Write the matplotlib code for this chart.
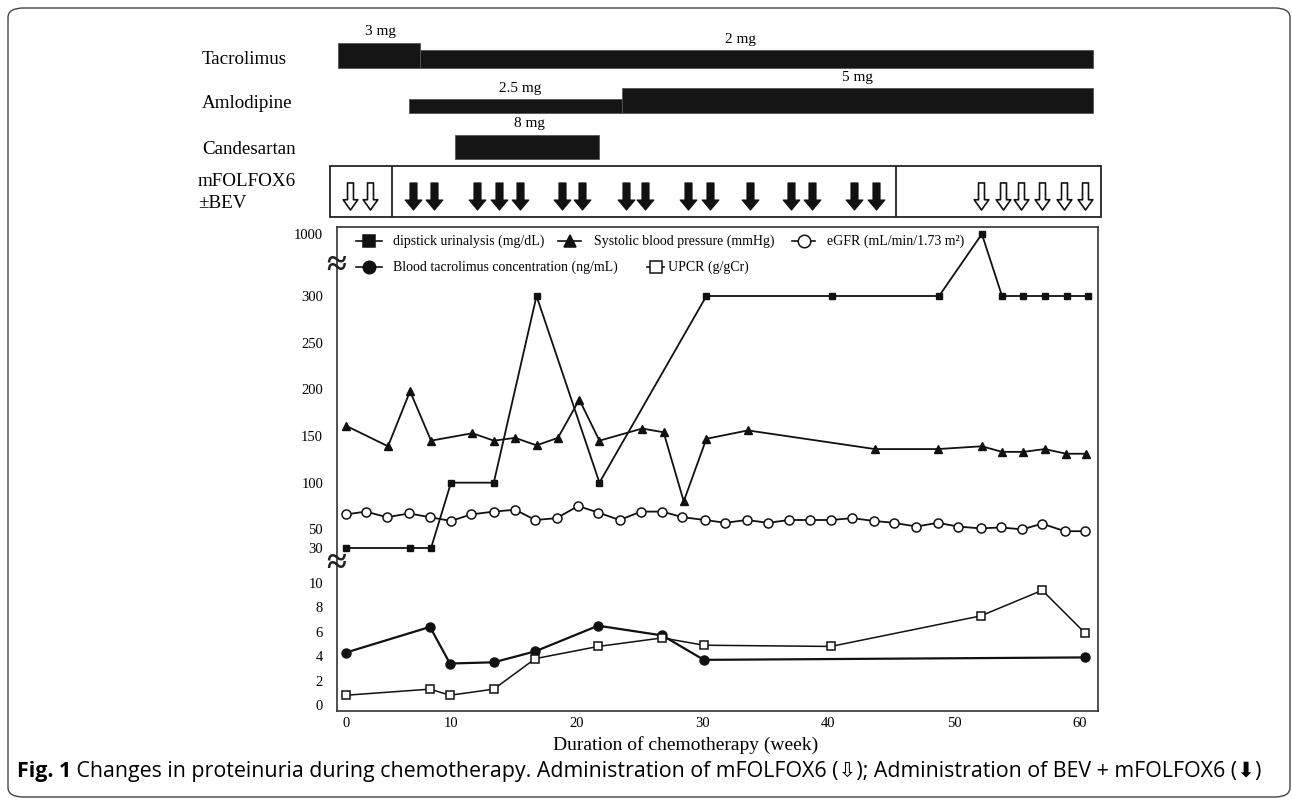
import numpy as np
import matplotlib
matplotlib.use("Agg")
import matplotlib.pyplot as plt
from matplotlib.path import Path
from matplotlib.lines import Line2D
from matplotlib.patches import FancyBboxPatch, Rectangle

# ---------------- data ----------------
dip_week = [0, 6.1, 8.1, 10.0, 13.4, 16.8, 21.8, 30.3, 40.3, 48.8, 52.2, 53.8, 55.5, 57.2, 59.0, 60.6]
dip_val = [30, 30, 30, 100, 100, 300, 100, 300, 300, 300, 1000, 300, 300, 300, 300, 300]

sbp_week = [0, 4.0, 6.1, 8.1, 11.7, 13.4, 15.1, 16.8, 18.5, 20.2, 21.8, 25.2, 26.9, 28.5,
            30.3, 33.6, 43.7, 48.7, 52.2, 53.8, 55.5, 57.2, 58.9, 60.5]
sbp_val = [161, 139, 198, 145, 153, 145, 148, 140, 148, 189, 145, 158, 154, 80,
           147, 156, 136, 136, 139, 133, 133, 136, 131, 131]

egfr_week = [0, 1.9, 3.9, 6.0, 8.0, 10.0, 11.6, 13.4, 15.1, 16.7, 18.4, 20.1, 21.7, 23.4, 25.1,
             26.8, 28.4, 30.2, 31.8, 33.5, 35.2, 36.9, 38.5, 40.2, 41.9, 43.6, 45.2, 47.0, 48.7,
             50.3, 52.1, 53.7, 55.4, 57.0, 58.8, 60.4]
egfr_val = [66, 69, 63, 67, 63, 59, 66, 69, 71, 60, 62, 75, 68, 60, 69,
            69, 63, 60, 57, 60, 57, 60, 60, 60, 62, 59, 57, 53, 57,
            53, 51, 52, 50, 56, 48, 48]

tac_week = [0, 8.0, 9.9, 13.4, 16.7, 21.7, 26.8, 30.1, 60.4]
tac_val = [4.3, 6.4, 3.4, 3.5, 4.4, 6.5, 5.7, 3.7, 3.9]

upcr_week = [0, 8.0, 9.9, 13.4, 16.7, 21.7, 26.8, 30.1, 40.2, 52.1, 57.0, 60.4]
upcr_val = [0.8, 1.3, 0.8, 1.3, 3.8, 4.8, 5.5, 4.9, 4.8, 7.3, 9.4, 5.9]

drug_names = ["Tacrolimus", "Amlodipine", "Candesartan"]
drug_start = [[-0.8, 7.05], [6.0, 23.6], [10.35]]
drug_end = [[7.05, 61.0], [23.6, 61.0], [21.75]]
drug_dose = [["3 mg", "2 mg"], ["2.5 mg", "5 mg"], ["8 mg"]]
dose_label_week = [[3.3, 33.0], [15.5, 42.3], [16.2]]

chemo_only_weeks = [0.4, 2.3, 52.1, 53.9, 55.3, 57.0, 58.7, 60.4]
bev_weeks = [6.4, 8.4, 12.1, 13.8, 15.5, 18.8, 20.4, 23.9, 25.4, 28.8, 30.6, 33.8,
             37.0, 38.7, 42.0, 43.8]
phase_bounds = [-1.52, 4.38, 45.37, 61.67]

y_ticks = [0, 2, 4, 6, 8, 10, 30, 50, 100, 150, 200, 250, 300, 1000]
x_ticks = [0, 10, 20, 30, 40, 50, 60]

# ---------------- layout ----------------
W, H, DPI = 1292, 799, 100
plt.rcParams["font.family"] = ["Liberation Serif", "DejaVu Serif"]
plt.rcParams["font.size"] = 10.5

def fx(x):
    return x / W

def fy(y):
    return 1 - y / H

# piecewise axis scales (the original chart is not uniform)
def xf(w):
    w = np.asarray(w, float)
    return np.where(w < 10, w * 10.5, 105 + (w - 10) * 12.58)

def xi(p):
    p = np.asarray(p, float)
    return np.where(p < 105, p / 10.5, 10 + (p - 105) / 12.58)

def yf(v):
    v = np.asarray(v, float)
    return np.where(v <= 10, v * 12.2,
           np.where(v <= 30, 122 + (v - 10) * 1.75,
           np.where(v <= 300, 157 + (v - 30) * 0.9333, 409 + (v - 300) * (62 / 700))))

def yi(u):
    u = np.asarray(u, float)
    return np.where(u <= 122, u / 12.2,
           np.where(u <= 157, 10 + (u - 122) / 1.75,
           np.where(u <= 409, 30 + (u - 157) / 0.9333, 300 + (u - 409) * 700 / 62)))

X0PIX = 346  # pixel of week 0
YBASE = 705  # pixel of value 0

fig = plt.figure(figsize=(W / DPI, H / DPI), dpi=DPI)

# ---- main axes ----
axL, axR, axT, axB = 337, 1098, 227, 711
ax = fig.add_axes([fx(axL), fy(axB), (axR - axL) / W, (axB - axT) / H])
ax.set_xscale("function", functions=(xf, xi))
ax.set_yscale("function", functions=(yf, yi))
ax.set_xlim(float(xi(axL - X0PIX)), float(xi(axR - X0PIX)))
ax.set_ylim(float(yi(YBASE - axB)), float(yi(YBASE - axT)))
ax.set_xticks(x_ticks)
ax.set_xticklabels([str(t) for t in x_ticks])
ax.set_yticks(y_ticks)
ax.set_yticklabels([str(t) for t in y_ticks])
ax.minorticks_off()
ax.tick_params(axis="both", length=0, labelsize=10.5)
ax.tick_params(axis="y", pad=10)
ax.tick_params(axis="x", pad=4)
for s in ax.spines.values():
    s.set_color("#333333")
    s.set_linewidth(1.2)

lc = "#111111"
ax.plot(dip_week, dip_val, color=lc, lw=1.3, marker="s", ms=4.5, mfc=lc, mec=lc, zorder=3)
ax.plot(sbp_week, sbp_val, color=lc, lw=1.3, marker="^", ms=6, mfc=lc, mec=lc, zorder=3)
ax.plot(egfr_week, egfr_val, color=lc, lw=1.3, marker="o", ms=6.5, mfc="white", mec=lc, mew=1.1, zorder=4)
ax.plot(tac_week, tac_val, color=lc, lw=1.6, marker="o", ms=6.5, mfc=lc, mec=lc, zorder=3)
ax.plot(upcr_week, upcr_val, color=lc, lw=1.1, marker="s", ms=6, mfc="white", mec=lc, mew=1.1, zorder=4)

# axis break marks
for yb in (266, 565):
    fig.text(fx(336), fy(yb), "\u2248", fontsize=26, ha="center", va="center",
             fontweight="bold", color="#222222")

# legend (drawn manually to reproduce its irregular layout)
def legend_item(x0, x1, y, marker, mfc, ms, tx, label):
    fig.add_artist(Line2D([fx(x0), fx(x1)], [fy(y), fy(y)], transform=fig.transFigure,
                          color=lc, lw=1.2))
    fig.add_artist(Line2D([fx((x0 + x1) / 2)], [fy(y)], transform=fig.transFigure, ls="none",
                          marker=marker, mfc=mfc, mec=lc, mew=1.1, ms=ms))
    fig.text(fx(tx), fy(y), label, ha="left", va="center", fontsize=10)

legend_item(356, 382, 241, "s", lc, 9, 393, "dipstick urinalysis (mg/dL)")
legend_item(558, 581, 241, "^", lc, 8, 594, "Systolic blood pressure (mmHg)")
legend_item(792, 815, 241, "o", "white", 9, 827, "eGFR (mL/min/1.73 m\u00b2)")
legend_item(356, 382, 267, "o", lc, 9, 393, "Blood tacrolimus concentration (ng/mL)")
legend_item(647, 664, 267, "s", "white", 8.5, 668, "UPCR (g/gCr)")

fig.text(fx(686), fy(745), "Duration of chemotherapy (week)", ha="center", va="center", fontsize=14)

# ---- top panel: drugs and chemotherapy ----
tL, tR, tT, tB = 180, 1110, 0, 222
axt = fig.add_axes([fx(tL), fy(tB), (tR - tL) / W, (tB - tT) / H])
axt.set_xscale("function", functions=(xf, xi))
axt.set_xlim(float(xi(tL - X0PIX)), float(xi(tR - X0PIX)))
axt.set_ylim(tB - tT, 0)
axt.axis("off")

bar_bottom = [68.3, 113.3, 159.3]
bar_heights = [[25.6, 18.3], [14.0, 25.0], [24.3]]
name_y = [60, 103, 149]
for i, name in enumerate(drug_names):
    fig.text(fx(202), fy(name_y[i]), name, ha="left", va="center", fontsize=13.7)
    for s, e, d, h, lx in zip(drug_start[i], drug_end[i], drug_dose[i], bar_heights[i], dose_label_week[i]):
        axt.barh(bar_bottom[i] - h, e - s, left=s, height=h, align="edge",
                 color="#151515", edgecolor="#555555", linewidth=0.6)
        axt.text(lx, bar_bottom[i] - h - 11, d, ha="center", va="center", fontsize=11)

fig.text(fx(198), fy(182), "mFOLFOX6", ha="left", va="center", fontsize=13.7)
fig.text(fx(198), fy(204), "\u00b1BEV", ha="left", va="center", fontsize=13.7)

box_top, box_bot = 165.7, 217.3
axt.add_patch(Rectangle((phase_bounds[0], box_top), phase_bounds[-1] - phase_bounds[0],
                        box_bot - box_top, fill=False, ec="#222222", lw=1.3))
axt.vlines(phase_bounds[1:-1], box_top, box_bot, color="#222222", lw=1.3)

def arrow_path(sw, hw, hh):
    v = [(-sw, 0.5), (sw, 0.5), (sw, -0.5 + hh), (hw, -0.5 + hh), (0, -0.5),
         (-hw, -0.5 + hh), (-sw, -0.5 + hh), (-sw, 0.5)]
    codes = [Path.MOVETO] + [Path.LINETO] * 6 + [Path.CLOSEPOLY]
    return Path(v, codes)

open_arrow = arrow_path(0.11, 0.27, 0.38)
filled_arrow = arrow_path(0.13, 0.31, 0.37)
arrow_y = 196
axt.plot(chemo_only_weeks, [arrow_y] * len(chemo_only_weeks), ls="none", marker=open_arrow,
         ms=19.5, mfc="white", mec="#111111", mew=1.2)
axt.plot(bev_weeks, [arrow_y] * len(bev_weeks), ls="none", marker=filled_arrow,
         ms=19.5, mfc="#111111", mec="#111111", mew=0.8)

# ---- caption and frame ----
cap_font = ["Open Sans", "DejaVu Sans"]
t1 = fig.text(fx(17), fy(771), "Fig. 1", ha="left", va="center", fontsize=15.4,
              fontweight="bold", family=cap_font)
ax.annotate(" Changes in proteinuria during chemotherapy. Administration of mFOLFOX6 (\u21e9); "
            "Administration of BEV + mFOLFOX6 (\u2b07)",
            xy=(1, 0.5), xycoords=t1, ha="left", va="center", fontsize=15.4,
            family=cap_font, annotation_clip=False)

frame = FancyBboxPatch((fx(8), fy(797)), fx(1290) - fx(8), fy(8) - fy(797),
                       boxstyle="round,pad=0,rounding_size=0.012", transform=fig.transFigure,
                       fill=False, ec="#444444", lw=1.0)
fig.add_artist(frame)

fig.savefig("out.png", dpi=DPI)
